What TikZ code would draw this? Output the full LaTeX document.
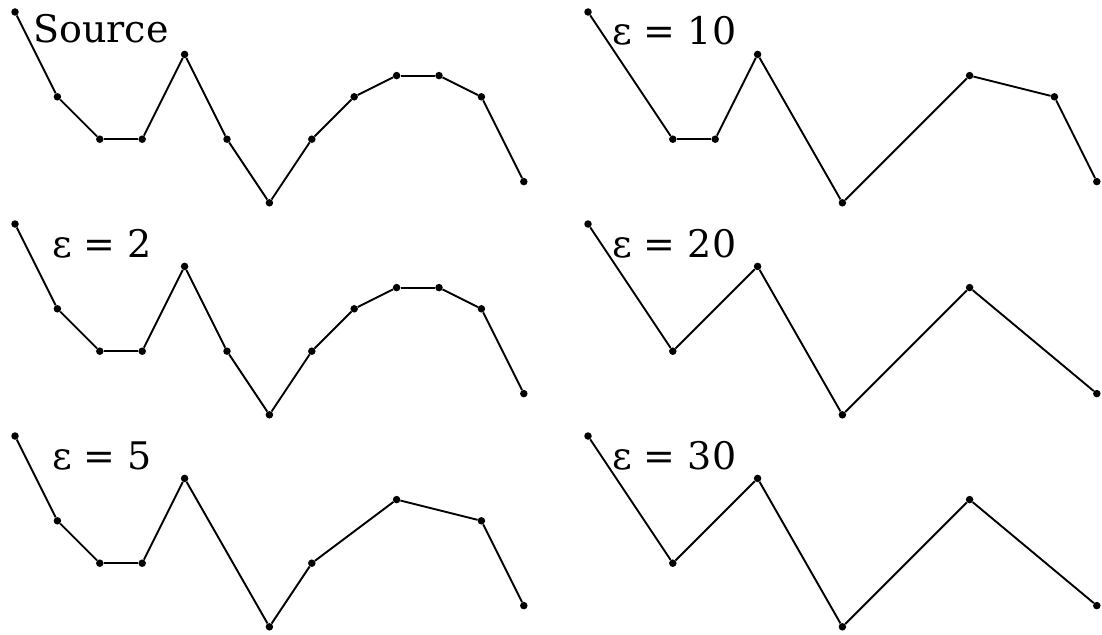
\documentclass[tikz,border=0pt]{standalone}
\usepackage{fontspec}
\setmainfont{DejaVu Serif}
\usetikzlibrary{positioning}
\definecolor{ink}{RGB}{0,0,0}
\tikzset{
  vtx/.style={circle,fill=ink,inner sep=0pt,minimum size=7.5pt},
  seg/.style={draw=ink,line width=1.9pt},
  lbl/.style={anchor=base west,inner sep=0pt,font=\fontsize{38}{44}\selectfont},
}
\def\ydata{{0,4,6,6,2,6,9,6,4,3,3,4,8}}

\begin{document}
\begin{tikzpicture}[x=1pt,y=-1pt]
  \useasboundingbox (0,0) rectangle (1102,634);
  \foreach \pn/\dx/\dy/\lab/\lx/\ly/\keep in {
      src/0/0/Source/33/43/{0,1,2,3,4,5,6,7,8,9,10,11,12},
      ea/0/212/{ε = 2}/52/45/{0,1,2,3,4,5,6,7,8,9,10,11,12},
      eb/0/424/{ε = 5}/52/45/{0,1,2,3,4,6,7,9,11,12},
      ec/573/0/{ε = 10}/39/45/{0,2,3,4,6,9,11,12},
      ed/573/212/{ε = 20}/39/45/{0,2,4,6,9,12},
      ee/573/424/{ε = 30}/39/45/{0,2,4,6,9,12}} {
    \foreach \k [remember=\k as \prev (initially -1)] in \keep {
      \pgfmathsetmacro\yy{\ydata[\k]}
      \node[vtx] (\pn-\k) at ({15+\dx+42.4*\k},{12+\dy+21.2*\yy}) {};
      \ifnum\prev>-1 \draw[seg] (\pn-\prev) -- (\pn-\k); \fi
    }
    \node[lbl] (\pn-lab) at ({\lx+\dx},{\ly+\dy}) {\lab};
  }
\end{tikzpicture}
\end{document}
